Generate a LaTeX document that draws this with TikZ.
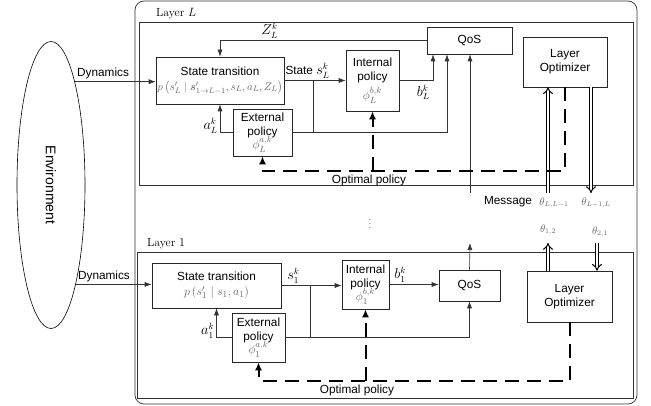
\documentclass[tikz,border=0pt]{standalone}
\usepackage{amsmath}
\usepackage{fontspec}
\setsansfont{Liberation Sans}
\usetikzlibrary{arrows.meta,shapes.geometric}

\begin{document}
\begin{tikzpicture}[x=1pt, y=-1pt, >={Latex[length=7pt,width=5pt]},
    font=\fontsize{11.8}{14}\selectfont,
    block/.style={draw=black!85, line width=0.6pt, align=center, inner sep=1pt,
        font=\sffamily\fontsize{11.8}{14}\selectfont},
    wire/.style={draw=black!80, line width=0.6pt},
    optline/.style={line width=2pt, dash pattern=on 14pt off 8pt, -{Latex[length=8pt,width=7pt]}},
    dbl/.style={double, double distance=2.4pt, line width=1pt, -{Implies}},
    lbl/.style={font=\sffamily\fontsize{11.8}{14}\selectfont, inner sep=2pt},
    mlbl/.style={inner sep=2pt, font=\fontsize{13.5}{15}\selectfont},
    thlbl/.style={text=black!60, font=\fontsize{10.5}{12}\selectfont, inner sep=1pt}]
    \useasboundingbox (0,0) rectangle (651,406);

    % frames
    \draw[black!80, line width=0.7pt, rounded corners=9pt] (135,1) rectangle (637,404);
    \draw[black!80, line width=0.6pt] (139,22) rectangle (633,185);
    \draw[black!80, line width=0.6pt] (137,252) rectangle (633,398);
    \node[anchor=west, inner sep=0pt] (layL) at (156,14) {Layer $L$};
    \node[anchor=west, inner sep=0pt] (lay1) at (147,244) {Layer $1$};

    % environment
    \node[ellipse, draw, line width=0.6pt, minimum width=68pt, minimum height=287pt, inner sep=0pt] (env) at (51,185) {};
    \node[rotate=-90, font=\sffamily\fontsize{14}{16}\selectfont] (envtxt) at (env) {Environment};

    % layer L
    \node[block, minimum width=128pt, minimum height=47pt] (stL) at (220,80.5)
        {State transition\\[1pt]{\color{black!60}\fontsize{11.3}{13}\selectfont $p\left(s'_L \mid \boldsymbol{s}'_{1\rightarrow L-1}, s_L, a_L, Z_L\right)$}};
    \node[block, minimum width=59pt, minimum height=47pt] (extL) at (262.5,132.5) {External\\policy\\[-2pt]{\fontsize{13}{14}\selectfont$\color{black!60}\phi_L^{a,k}$}};
    \node[block, minimum width=53pt, minimum height=61pt] (intL) at (372.5,80.5) {Internal\\policy\\[3pt]{\fontsize{13}{14}\selectfont$\color{black!60}\phi_L^{b,k}$}};
    \node[block, minimum width=85pt, minimum height=27pt] (qosL) at (469.5,40.5) {QoS};
    \node[block, minimum width=84pt, minimum height=50pt] (optL) at (565,62) {Layer\\Optimizer};

    \draw[wire,->] (env.77) -- node[lbl, above right, pos=0] (dynL) {Dynamics} (env.77 -| stL.west);
    \draw[wire,->] (qosL.west) -| node[mlbl, above, pos=0.38] (zL) {$Z_L^k$} (stL.north);
    \draw[wire,->] (extL.west) -| node[mlbl, left, pos=0.62] (aL) {$a_L^k$} (stL.south);
    \draw[wire,->] (stL.east) -- node[lbl, above, pos=0.38] (sL) {State {\fontsize{13.5}{15}\selectfont$s_L^k$}} (intL.west);
    \coordinate (brL) at (313,80.5);
    \draw[wire] (brL) -- (brL |- extL.east);
    \draw[wire,->] (extL.east) -| ([xshift=-22.5pt]qosL.south);
    \draw[wire,->] (intL.east) -| node[mlbl, below left, pos=0.5, xshift=-1pt, yshift=-2pt] (bL) {$b_L^k$} ([xshift=-36.5pt]qosL.south);
    \coordinate (msgL) at (470,193);
    \draw[wire,->] (msgL) -- (msgL |- qosL.south);
    \coordinate (thLa) at (548,193);
    \draw[dbl] (thLa) -- (thLa |- optL.south);
    \coordinate (thLb) at (591,193);
    \draw[dbl] (thLb |- optL.south) -- (thLb);
    \draw[optline] (optL.south) -- ++(0,84) -| (extL.south);
    \draw[optline] (intL.south |- 0,171) -- (intL.south);
    \node[lbl] (optpL) at (369,180) {Optimal policy};

    % messages
    \node[lbl] (msg) at (508,202) {Message};
    \node[thlbl] (thLL) at (554,203) {$\theta_{L,L-1}$};
    \node[thlbl] (thL1) at (596,203) {$\theta_{L-1,L}$};
    \node[text=black!60] (dots) at (370,221) {$\vdots$};

    % layer 1
    \node[block, minimum width=129pt, minimum height=45pt] (st1) at (216.5,285.5)
        {State transition\\[1pt]{\color{black!60}\fontsize{12.5}{14}\selectfont$p\left(s'_1 \mid s_1, a_1\right)$}};
    \node[block, minimum width=53pt, minimum height=49pt] (ext1) at (258.5,337.5) {External\\policy\\[-2pt]{\fontsize{13}{14}\selectfont$\color{black!60}\phi_1^{a,k}$}};
    \node[block, minimum width=47pt, minimum height=49pt] (int1) at (365.5,284.5) {Internal\\policy\\[-2pt]{\fontsize{13}{14}\selectfont$\color{black!60}\phi_1^{b,k}$}};
    \node[block, minimum width=61pt, minimum height=31pt] (qos1) at (469.5,285.5) {QoS};
    \node[block, minimum width=85pt, minimum height=51pt] (opt1) at (569.5,296.5) {Layer\\Optimizer};

    \draw[wire,->] (env.-76) -- node[lbl, above right, pos=0] (dyn1) {Dynamics} (env.-76 -| st1.west);
    \draw[wire,->] (st1.east) -- node[mlbl, above, pos=0.2] (s1) {$s_1^k$} (st1.east -| int1.west);
    \coordinate (br1) at (310,285.5);
    \draw[wire] (br1) -- (br1 |- ext1.east);
    \draw[wire,->] (ext1.east) -| (qos1.south);
    \draw[wire,->] (ext1.west) -| node[mlbl, left, pos=0.62] (a1) {$a_1^k$} (st1.south);
    \draw[wire,->] (int1.east) -- node[mlbl, above, pos=0.22] (b1) {$b_1^k$} (int1.east -| qos1.west);
    \coordinate (msg1) at (470,243);
    \draw[wire,->] (qos1.north) -- (msg1);
    \coordinate (th1a) at (548,243);
    \draw[dbl] (th1a |- opt1.north) -- (th1a);
    \coordinate (th1b) at (597,243);
    \draw[dbl] (th1b) -- (th1b |- opt1.north);
    \node[thlbl] (th12) at (548,230) {$\theta_{1,2}$};
    \node[thlbl] (th21) at (600,232) {$\theta_{2,1}$};
    \draw[optline] (opt1.south) -- ++(0,59) -| (ext1.south);
    \draw[optline] (int1.south |- 0,381) -- (int1.south);
    \node[lbl] (optp1) at (357,390) {Optimal policy};
\end{tikzpicture}
\end{document}
